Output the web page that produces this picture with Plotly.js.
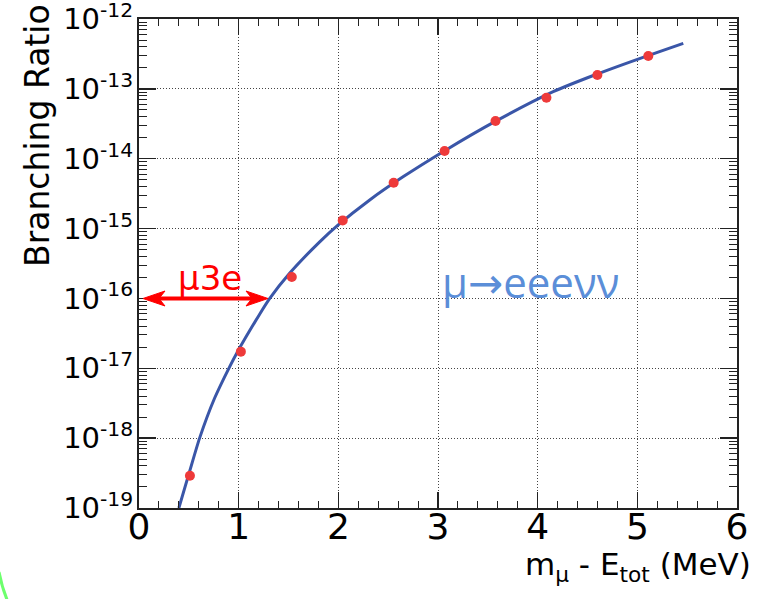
<!DOCTYPE html>
<html>
<head>
<meta charset="utf-8">
<script src="https://cdn.plot.ly/plotly-3.0.1.min.js"></script>
<style>html,body{margin:0;padding:0;background:#fff;}#chart{width:777px;height:599px;}</style>
</head>
<body>
<div id="chart"></div>
<script>
// Theoretical curve
const curveX = [0.40, 0.507, 0.608, 0.758, 0.909, 0.982, 1.209, 1.312, 1.511, 1.813, 1.996, 2.315, 2.649, 3.051, 3.570, 4.156, 4.591, 5.093, 5.461];
const curveY = [1.0e-19, 3.31e-19, 1.0e-18, 3.72e-18, 1.05e-17, 1.66e-17, 5.89e-17, 1.0e-16, 2.29e-16, 6.46e-16, 1.12e-15, 2.57e-15, 5.5e-15, 1.26e-14, 3.39e-14, 9.12e-14, 1.62e-13, 2.95e-13, 4.47e-13];
// Simulated points
const pointX = [0.511, 1.022, 1.533, 2.044, 2.555, 3.066, 3.577, 4.088, 4.599, 5.110];
const pointY = [2.9e-19, 1.73e-17, 2.03e-16, 1.31e-15, 4.54e-15, 1.29e-14, 3.47e-14, 7.48e-14, 1.58e-13, 2.95e-13];
// Axis ticks
const xTickVals = [0, 1, 2, 3, 4, 5, 6];
const xTickText = ['0', '1', '2', '3', '4', '5', '6'];
const yTickVals = [1e-19, 1e-18, 1e-17, 1e-16, 1e-15, 1e-14, 1e-13, 1e-12];
const yTickText = ['10<sup>-19</sup>', '10<sup>-18</sup>', '10<sup>-17</sup>', '10<sup>-16</sup>', '10<sup>-15</sup>', '10<sup>-14</sup>', '10<sup>-13</sup>', '10<sup>-12</sup>'];
const labels = {
  yTitle: 'Branching Ratio',
  xTitle: 'm<sub>μ</sub> - E<sub>tot</sub> (MeV)',
  mu3e: 'μ3e',
  channel: 'μ→eeeνν'
};

const traces = [
  {
    x: curveX, y: curveY, type: 'scatter', mode: 'lines',
    line: {color: '#3a56a8', width: 3, shape: 'spline', smoothing: 0.6},
    hoverinfo: 'skip', showlegend: false
  },
  {
    x: pointX, y: pointY, type: 'scatter', mode: 'markers',
    marker: {color: '#ee3a3a', size: 10, line: {width: 0}},
    showlegend: false
  }
];

// paper helpers for decorations
const L = 139, T = 19, W = 598, H = 489;
const px = v => (v - L) / W;
const py = v => (T + H - v) / H;
const arrowPath = ['M', px(159), py(298.5), 'L', px(252), py(298.5)].join(' ');
const headL = 'M ' + px(143) + ',' + py(298.5) + ' L ' + px(165) + ',' + py(291) + ' L ' + px(159) + ',' + py(298.5) + ' L ' + px(165) + ',' + py(306) + ' Z';
const headR = 'M ' + px(268) + ',' + py(298.5) + ' L ' + px(246) + ',' + py(291) + ' L ' + px(252) + ',' + py(298.5) + ' L ' + px(246) + ',' + py(306) + ' Z';

const axisCommon = {
  showline: true, linecolor: '#222', linewidth: 2, mirror: 'ticks',
  ticks: 'inside', tickcolor: '#222', tickwidth: 1.5,
  showgrid: true, gridcolor: '#444', gridwidth: 1, griddash: '1px,2px',
  zeroline: false, ticklabeloverflow: 'allow'
};

const layout = {
  width: 777, height: 599,
  margin: {l: L, r: 777 - L - W, t: T, b: 599 - T - H},
  paper_bgcolor: '#ffffff', plot_bgcolor: '#ffffff',
  font: {family: 'DejaVu Sans, sans-serif', color: '#000'},
  showlegend: false,
  xaxis: Object.assign({}, axisCommon, {
    range: [0, 6], tickmode: 'array', tickvals: xTickVals, ticktext: xTickText,
    ticklen: 16, ticklabelstandoff: -14, tickfont: {size: 36, family: 'DejaVu Sans'},
    minor: {dtick: 0.2, ticklen: 7, tickcolor: '#222', tickwidth: 1, ticks: 'inside', showgrid: false}
  }),
  yaxis: Object.assign({}, axisCommon, {
    type: 'log', range: [-19.0001, -11.9999], tickmode: 'array', tickvals: yTickVals, ticktext: yTickText,
    ticklen: 17, ticklabelstandoff: -2, tickfont: {size: 29, family: 'DejaVu Sans'},
    minor: {dtick: 'D1', ticklen: 8, tickcolor: '#222', tickwidth: 1, ticks: 'inside', showgrid: false}
  }),
  shapes: [
    {type: 'path', xref: 'paper', yref: 'paper', path: arrowPath, line: {color: '#ff0000', width: 4}},
    {type: 'path', xref: 'paper', yref: 'paper', path: headL, fillcolor: '#ff0000', line: {color: '#ff0000', width: 1}},
    {type: 'path', xref: 'paper', yref: 'paper', path: headR, fillcolor: '#ff0000', line: {color: '#ff0000', width: 1}},
    {type: 'path', xref: 'paper', yref: 'paper',
     path: 'M ' + px(-1) + ',' + py(572) + ' Q ' + px(2) + ',' + py(588) + ' ' + px(8) + ',' + py(602),
     line: {color: '#6dff6d', width: 3}}
  ],
  annotations: [
    {text: labels.yTitle, xref: 'paper', yref: 'paper', x: px(38), y: py(136), textangle: -90,
     showarrow: false, xanchor: 'center', yanchor: 'middle', font: {size: 33, family: 'DejaVu Sans', color: '#000'}},
    {text: labels.xTitle, xref: 'paper', yref: 'paper', x: px(753), y: py(566),
     showarrow: false, xanchor: 'right', yanchor: 'middle', font: {size: 31, family: 'DejaVu Sans', color: '#000'}},
    {text: labels.mu3e, xref: 'paper', yref: 'paper', x: px(209.5), y: py(278),
     showarrow: false, xanchor: 'center', yanchor: 'middle', font: {size: 34, family: 'DejaVu Sans', color: '#ff0000'}},
    {text: labels.channel, xref: 'paper', yref: 'paper', x: px(530.5), y: py(282),
     showarrow: false, xanchor: 'center', yanchor: 'middle', font: {size: 42, family: 'Open Sans, DejaVu Sans', color: '#5b8ed8'}}
  ]
};

Plotly.newPlot('chart', traces, layout, {staticPlot: true, displayModeBar: false});
</script>
</body>
</html>
